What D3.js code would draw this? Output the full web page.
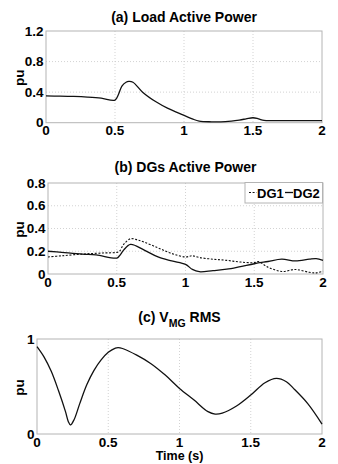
<!DOCTYPE html>
<html>
<head>
<meta charset="utf-8">
<script src="https://cdn.jsdelivr.net/npm/d3@7"></script>
<style>
  body { margin: 0; background: #fff; }
  text { font-family: "Liberation Sans", Arial, sans-serif; font-weight: bold; fill: #000; }
</style>
</head>
<body>
<div id="chart"></div>
<script>
// (a) load active power
const loadT = [0, 0.1, 0.2, 0.3, 0.4, 0.5, 0.525, 0.55, 0.58, 0.6, 0.63, 0.7, 0.8, 0.88, 0.97, 1.06, 1.11, 1.2, 1.3, 1.4, 1.45, 1.5, 1.54, 1.58, 1.65, 1.8, 2.0];
const loadP = [0.35, 0.348, 0.344, 0.336, 0.322, 0.295, 0.37, 0.48, 0.53, 0.54, 0.53, 0.40, 0.27, 0.19, 0.12, 0.05, 0.02, 0.012, 0.015, 0.035, 0.05, 0.065, 0.05, 0.03, 0.027, 0.027, 0.028];

// (b) DGs active power
const dg1T = [0, 0.1, 0.25, 0.4, 0.5, 0.52, 0.55, 0.6, 0.65, 0.7, 0.8, 0.9, 1.0, 1.05, 1.1, 1.2, 1.3, 1.4, 1.5, 1.53, 1.6, 1.7, 1.8, 1.9, 1.95, 2.0];
const dg1P = [0.15, 0.16, 0.175, 0.185, 0.19, 0.20, 0.26, 0.31, 0.30, 0.28, 0.23, 0.18, 0.15, 0.16, 0.145, 0.13, 0.12, 0.105, 0.10, 0.11, 0.06, 0.022, 0.04, 0.015, 0.01, 0.025];
const dg2T = [0, 0.1, 0.25, 0.35, 0.5, 0.52, 0.55, 0.6, 0.7, 0.8, 0.9, 1.0, 1.05, 1.1, 1.2, 1.3, 1.4, 1.5, 1.6, 1.7, 1.8, 1.9, 1.95, 2.0];
const dg2P = [0.20, 0.19, 0.175, 0.168, 0.14, 0.16, 0.21, 0.26, 0.21, 0.15, 0.115, 0.085, 0.04, 0.02, 0.03, 0.042, 0.065, 0.09, 0.11, 0.13, 0.115, 0.13, 0.135, 0.12];

// (c) VMG RMS
const vT = [0, 0.05, 0.1, 0.15, 0.2, 0.22, 0.235, 0.26, 0.3, 0.35, 0.4, 0.45, 0.5, 0.55, 0.57, 0.6, 0.7, 0.8, 0.9, 1.0, 1.1, 1.2, 1.25, 1.3, 1.4, 1.5, 1.6, 1.68, 1.75, 1.8, 1.9, 2.0];
const vRms = [0.92, 0.81, 0.66, 0.46, 0.235, 0.13, 0.095, 0.15, 0.32, 0.52, 0.67, 0.78, 0.86, 0.905, 0.91, 0.90, 0.83, 0.74, 0.62, 0.48, 0.36, 0.235, 0.21, 0.22, 0.295, 0.41, 0.54, 0.585, 0.55, 0.48, 0.32, 0.105];

const xTicks = [0, 0.5, 1, 1.5, 2];
const xTickLabels = ['0', '0.5', '1', '1.5', '2'];

const width = 338, height = 464;

const svg = d3.select('#chart').append('svg')
  .attr('width', width)
  .attr('height', height);

const panels = [
  {
    title: '(a) Load Active Power', box: [46, 322, 31, 122.7], titleY: 22,
    yDomain: [0, 1.2], yTicks: [0, 0.4, 0.8, 1.2], yTickLabels: ['0', '0.4', '0.8', '1.2'],
    series: [{t: loadT, v: loadP, dash: null}]
  },
  {
    title: '(b) DGs Active Power', box: [48, 323, 183, 274], titleY: 172,
    yDomain: [0, 0.8], yTicks: [0, 0.2, 0.4, 0.6, 0.8], yTickLabels: ['0', '0.2', '0.4', '0.6', '0.8'],
    series: [{t: dg1T, v: dg1P, dash: '2,1.6'}, {t: dg2T, v: dg2P, dash: null}],
    legend: true
  },
  {
    title: null, box: [37, 322, 339, 434], titleY: 322,
    yDomain: [0, 1], yTicks: [0, 1], yTickLabels: ['0', '1'],
    series: [{t: vT, v: vRms, dash: null}],
    xlabel: 'Time (s)'
  }
];

panels.forEach(p => {
  const [left, right, top, bottom] = p.box;
  const x = d3.scaleLinear().domain([0, 2]).range([left, right]);
  const y = d3.scaleLinear().domain(p.yDomain).range([bottom, top]);
  const g = svg.append('g');

  // grid
  g.selectAll('.gx').data(xTicks.slice(1, -1)).join('line')
    .attr('x1', d => x(d)).attr('x2', d => x(d))
    .attr('y1', top).attr('y2', bottom)
    .attr('stroke', '#c8c8c8').attr('stroke-width', 0.8).attr('stroke-dasharray', '1,2');
  g.selectAll('.gy').data(p.yTicks.slice(1, -1)).join('line')
    .attr('y1', d => y(d)).attr('y2', d => y(d))
    .attr('x1', left).attr('x2', right)
    .attr('stroke', '#c8c8c8').attr('stroke-width', 0.8).attr('stroke-dasharray', '1,2');

  // box
  g.append('rect')
    .attr('x', left).attr('y', top)
    .attr('width', right - left).attr('height', bottom - top)
    .attr('fill', 'none').attr('stroke', '#b4b4b4').attr('stroke-width', 1);

  // lines
  const line = d3.line().curve(d3.curveCatmullRom.alpha(0.5));
  p.series.forEach(s => {
    const pts = s.t.map((t, i) => [x(t), y(s.v[i])]);
    g.append('path')
      .attr('d', line(pts))
      .attr('fill', 'none')
      .attr('stroke', '#111')
      .attr('stroke-width', s.dash ? 1.1 : 1.3)
      .attr('stroke-dasharray', s.dash);
  });

  // x tick labels
  g.selectAll('.xt').data(xTicks).join('text')
    .attr('x', d => x(d)).attr('y', bottom + 12.5)
    .attr('text-anchor', 'middle')
    .attr('font-size', 13.5)
    .text((d, i) => xTickLabels[i]);

  // y tick labels
  g.selectAll('.yt').data(p.yTicks).join('text')
    .attr('x', left - 2.5).attr('y', d => y(d) + 4.5)
    .attr('text-anchor', 'end')
    .attr('font-size', 13.5)
    .text((d, i) => p.yTickLabels[i]);

  // y label
  g.append('text')
    .attr('transform', `translate(24,${(top + bottom) / 2 + 1}) rotate(-90)`)
    .attr('text-anchor', 'middle')
    .attr('font-size', 13.5)
    .text('pu');

  // title
  const cx = (left + right) / 2;
  if (p.title) {
    g.append('text')
      .attr('x', cx).attr('y', p.titleY)
      .attr('text-anchor', 'middle')
      .attr('font-size', 14)
      .text(p.title);
  } else {
    const t = g.append('text')
      .attr('x', cx).attr('y', p.titleY)
      .attr('text-anchor', 'middle')
      .attr('font-size', 14);
    t.append('tspan').text('(c) V');
    t.append('tspan').attr('dy', 5).attr('font-size', 10.5).text('MG');
    t.append('tspan').attr('dy', -5).text(' RMS');
  }

  if (p.xlabel) {
    g.append('text')
      .attr('x', cx).attr('y', bottom + 26)
      .attr('text-anchor', 'middle')
      .attr('font-size', 12.5)
      .text(p.xlabel);
  }

  if (p.legend) {
    const lg = g.append('g');
    lg.append('rect')
      .attr('x', 245).attr('y', 182.5)
      .attr('width', 77.5).attr('height', 20.5)
      .attr('fill', '#fff').attr('stroke', '#b4b4b4').attr('stroke-width', 1);
    lg.append('line')
      .attr('x1', 249).attr('x2', 256.5).attr('y1', 192.5).attr('y2', 192.5)
      .attr('stroke', '#111').attr('stroke-width', 1.1).attr('stroke-dasharray', '2,1.6');
    lg.append('text').attr('x', 257).attr('y', 197.5).attr('font-size', 13).text('DG1');
    lg.append('line')
      .attr('x1', 285).attr('x2', 293).attr('y1', 192.5).attr('y2', 192.5)
      .attr('stroke', '#111').attr('stroke-width', 1.3);
    lg.append('text').attr('x', 293).attr('y', 197.5).attr('font-size', 13).text('DG2');
  }
});
</script>
</body>
</html>
